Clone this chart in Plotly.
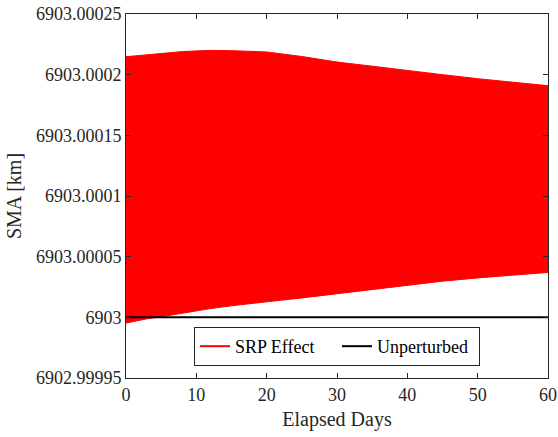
import plotly.graph_objects as go

# Elapsed days sampled for envelope of the SRP-perturbed SMA oscillation
days = [0, 3, 5, 8, 10, 12, 15, 17, 20, 25, 30, 35, 40, 45, 50, 55, 60]
# Offsets from 6903 km (km)
upper_off = [0.0002148, 0.0002165, 0.0002178, 0.0002190, 0.0002196, 0.0002200, 0.0002198, 0.0002195,
             0.0002187, 0.0002150, 0.0002104, 0.0002070, 0.0002038, 0.0002000, 0.0001967, 0.0001935, 0.0001909]
lower_off = [-0.0000047, -0.0000012, 0.0000005, 0.0000035, 0.0000055, 0.0000072, 0.0000095, 0.0000110,
             0.0000128, 0.0000160, 0.0000195, 0.0000230, 0.0000265, 0.0000298, 0.0000325, 0.0000350, 0.0000370]
base_sma = 6903.0
unpert_days = [0, 60]
unpert_sma = [6903.0, 6903.0]

ytick_vals = [6902.99995, 6903.0, 6903.00005, 6903.0001, 6903.00015, 6903.0002, 6903.00025]
ytick_text = ["6902.99995", "6903", "6903.00005", "6903.0001", "6903.00015", "6903.0002", "6903.00025"]
xtick_vals = [0, 10, 20, 30, 40, 50, 60]

upper = [base_sma + v for v in upper_off]
lower = [base_sma + v for v in lower_off]

FONT = "Liberation Serif, DejaVu Serif, serif"
AX = "#262626"

fig = go.Figure()
fig.add_trace(go.Scatter(x=days, y=upper, mode="lines", line=dict(color="#ff0000", width=1),
                         showlegend=False, hoverinfo="skip"))
fig.add_trace(go.Scatter(x=days, y=lower, mode="lines", line=dict(color="#ff0000", width=1),
                         fill="tonexty", fillcolor="#ff0000", showlegend=False, hoverinfo="skip"))
fig.add_trace(go.Scatter(x=[None], y=[None], mode="lines", line=dict(color="#ff0000", width=2),
                         name="SRP Effect"))
fig.add_trace(go.Scatter(x=unpert_days, y=unpert_sma, mode="lines", line=dict(color="#000000", width=2),
                         name="Unperturbed"))

fig.update_layout(
    width=558, height=437,
    margin=dict(l=126, r=10, t=14, b=59),
    paper_bgcolor="white", plot_bgcolor="white",
    font=dict(family=FONT, size=18, color=AX),
    legend=dict(orientation="h", x=0.5, xanchor="center", y=0.033, yanchor="bottom",
                bgcolor="white", bordercolor=AX, borderwidth=1, traceorder="normal",
                font=dict(family=FONT, size=18, color="#000000"),
                entrywidth=97, entrywidthmode="pixels", tracegroupgap=0),
)
fig.update_xaxes(range=[0, 60], tickvals=xtick_vals, showgrid=False, zeroline=False,
                 showline=True, linecolor=AX, linewidth=1, mirror="ticks", automargin=False,
                 ticks="inside", ticklen=5, tickcolor=AX,
                 title=dict(text="Elapsed Days", font=dict(size=20, family=FONT), standoff=8),
                 tickfont=dict(size=18, family=FONT))
fig.update_yaxes(range=[6902.99995, 6903.00025], tickvals=ytick_vals, ticktext=ytick_text,
                 showgrid=False, zeroline=False, automargin=False,
                 showline=True, linecolor=AX, linewidth=1, mirror="ticks",
                 ticks="inside", ticklen=5, tickcolor=AX,
                 title=dict(text="SMA [km]", font=dict(size=20, family=FONT), standoff=8),
                 tickfont=dict(size=18, family=FONT))

fig.write_html("out.html", config={"displayModeBar": False},
               post_script="document.body.style.margin='0';document.body.style.overflow='hidden';")
